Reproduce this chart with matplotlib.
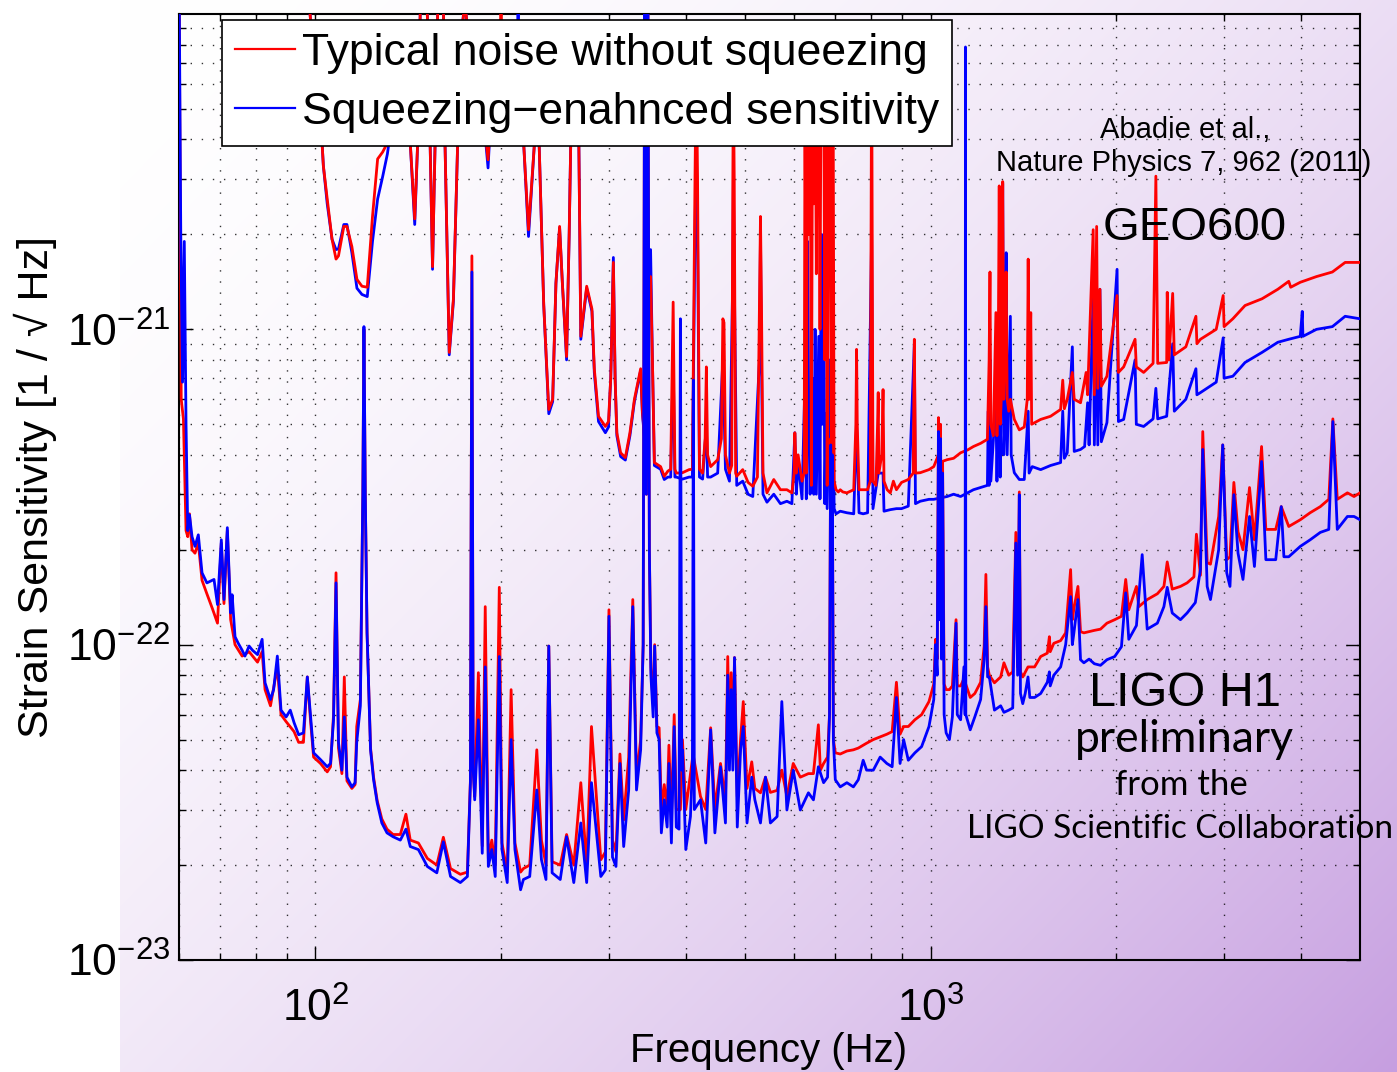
import matplotlib

matplotlib.use("Agg")
import matplotlib.pyplot as plt
import numpy as np
from matplotlib.lines import Line2D
from matplotlib.ticker import FixedLocator, LogFormatterSciNotation, NullFormatter

# ── data: (frequency Hz, strain in units of 1e-22 / sqrt(Hz)) ──────────

geo_red = [
    (60, 300), (95, 300), (98, 100), (100, 60), (102.5, 39), (103, 33), (104.5, 25.9),
    (106.4, 19.3), (108, 16.7), (109, 17.1), (111.2, 21.2), (112.5, 21.2), (114.6, 18.3),
    (116.8, 14.4), (119, 13.7), (121.4, 13.6), (123.8, 22.8), (126.2, 34.7), (128.6, 36.5),
    (130.9, 39), (134, 50), (138, 55), (142.6, 39), (145, 22.4), (146.6, 39), (148, 100),
    (150, 130), (152, 100), (153.6, 39), (155, 15.8), (156.5, 39), (158, 100), (160, 130),
    (161.5, 100), (162.4, 39), (165, 8.45), (167.6, 12.5), (170.3, 39), (172, 80), (175, 110),
    (177.5, 80), (182, 60), (188, 45), (190.8, 34.5), (193, 50), (197, 65), (199.5, 80),
    (200.3, 110), (201.2, 70), (206, 60), (212, 65), (218, 39), (222, 20.7), (227, 39),
    (230.5, 45), (235, 12), (239.5, 5.57), (243, 6.0), (246, 14), (249.4, 21.2), (252, 14),
    (256, 8.2), (258.5, 20), (261, 60), (265, 80), (268, 40), (270, 9.5), (276, 13.7),
    (281.5, 11.6), (284, 7.5), (288.5, 5.3), (296, 4.92), (299.5, 5.1), (302, 7.0),
    (305, 16.3), (307, 7.0), (309, 4.7), (313.4, 4.06), (319, 3.92), (324.5, 4.7), (330, 6.0),
    (337.8, 7.5), (340, 5.5), (342.4, 4.7), (346, 10), (350.6, 14.7), (353, 8.0),
    (355.6, 3.78), (364, 3.67), (369, 3.42), (374, 3.55), (378, 3.6), (381.5, 12.2),
    (384, 3.6), (386, 3.5), (395, 3.51), (405, 3.59), (410, 3.6), (414, 30), (416, 72),
    (418, 30), (421, 3.6), (426, 3.5), (430, 4.5), (432, 7.6), (434, 4.0), (439, 3.67),
    (450.7, 3.86), (457, 4.5), (459.5, 10.8), (461.5, 10.5), (464, 4.0), (471, 3.5),
    (475, 3.7), (477, 30), (478, 62), (479.5, 30), (482, 3.5), (484, 3.42), (495, 3.59),
    (505, 3.27), (514, 3.18), (523, 3.4), (527, 12), (529, 22.8), (531, 12), (534, 3.5),
    (542, 3.03), (556, 3.34), (570, 3.1), (584, 3.1), (595, 3.03), (600, 3.5), (601.6, 4.7),
    (605, 3.5), (609, 4.0), (618, 3.3), (623, 3.5), (625, 60), (628, 3.5), (631, 75),
    (634, 20), (637, 80), (640, 3.2), (643, 70), (646, 25), (649, 80), (652, 15), (655, 80),
    (658, 60), (661, 10), (664, 85), (667, 50), (670, 85), (673, 8), (676, 85), (679, 3.2),
    (683, 60), (686, 70), (690, 3.2), (694, 80), (697, 3.3), (702, 3.1), (708, 3.05),
    (713, 3.1), (720, 3.05), (731, 3.03), (750, 3.1), (756, 5), (758, 8.64), (760, 5),
    (765, 3.1), (777, 3.1), (790, 3.1), (798, 3.3), (802, 80), (806, 3.3), (815, 3.2),
    (820, 5), (822, 6.3), (824, 3.5), (833, 4), (837, 6.44), (840, 3.3), (850, 3.1),
    (860, 3.03), (870, 3.3), (880, 3.1), (897, 3.27), (920, 3.34), (937, 3.5), (941, 9.3),
    (945, 3.5), (962, 3.51), (994, 3.59), (1012, 3.67), (1030, 4.0), (1040, 3.8),
    (1064, 3.86), (1090, 3.9), (1119, 4.06), (1150, 4.15), (1174, 4.25), (1206, 4.35),
    (1237, 4.48), (1245, 8), (1249, 15.2), (1253, 5), (1265, 4.6), (1277, 11.3), (1282, 4.6),
    (1288, 8), (1293, 28.5), (1298, 5), (1303, 6), (1310, 29.4), (1315, 6), (1320, 8),
    (1327, 15.2), (1332, 6), (1340, 5.5), (1348, 6.0), (1368, 5.18), (1394, 4.8), (1420, 4.9),
    (1436, 6), (1441, 16.7), (1446, 6), (1455, 11.3), (1460, 5), (1488, 5.1), (1510, 5.18),
    (1567, 5.3), (1627, 5.57), (1640, 6.9), (1650, 5.6), (1668, 6.0), (1700, 7.3),
    (1712, 6.0), (1753, 5.85), (1790, 7.3), (1800, 6.2), (1838, 20.7), (1846, 6.2),
    (1862, 21.2), (1870, 6.5), (1885, 13.4), (1895, 6.6), (1935, 7.1), (2010, 12.8),
    (2020, 7.3), (2060, 7.6), (2150, 9.3), (2160, 7.6), (2220, 7.3), (2300, 7.8),
    (2324, 30.6), (2340, 7.8), (2420, 7.85), (2425, 13.1), (2440, 8.0), (2475, 13),
    (2490, 8.3), (2600, 8.8), (2700, 11), (2710, 9.0), (2746, 9.3), (2913, 10), (2990, 12.8),
    (3000, 10.2), (3100, 10.8), (3245, 11.9), (3458, 12.5), (3669, 13.4), (3822, 14.2),
    (3850, 13.6), (3990, 14.1), (4240, 14.7), (4500, 15.2), (4720, 16.3), (4990, 16.3),
]

geo_blue = [
    (60, 300), (95, 300), (98, 100), (100, 60), (102.5, 39), (103, 33), (104.5, 25),
    (106.4, 19.3), (108, 17.9), (109, 18), (111.2, 21.5), (112.5, 21.5), (114.6, 17.5),
    (116.8, 13.5), (119, 12.9), (121.4, 12.7), (123.8, 19), (126.2, 25.9), (128.6, 30.5),
    (130.9, 36), (134, 50), (138, 55), (142.6, 39), (145, 21.5), (146.6, 39), (148, 100),
    (150, 130), (152, 100), (153.6, 39), (155, 15.5), (156.5, 39), (158, 100), (160, 130),
    (161.5, 100), (162.4, 39), (165, 8.3), (167.6, 12.3), (170.3, 39), (172, 80), (175, 110),
    (177.5, 80), (182, 60), (188, 45), (190.8, 32.5), (193, 50), (197, 65), (206, 60),
    (213, 80), (213.5, 110), (214, 80), (218, 39), (222, 19.7), (227, 39), (230.5, 45),
    (235, 12), (239.5, 5.4), (243, 5.9), (246, 14), (249.4, 21), (252, 14), (256, 8.0),
    (258.5, 20), (261, 60), (265, 80), (268, 40), (270, 9.3), (276, 13.5), (281.5, 11.4),
    (284, 7.3), (288.5, 5.1), (296, 4.7), (299.5, 4.9), (302, 7.0), (305, 16.9), (307, 7.0),
    (309, 4.6), (313.4, 3.95), (319, 3.85), (324.5, 4.6), (330, 5.9), (337.8, 7.4),
    (340, 5.4), (342.4, 4.6), (346, 11), (350.6, 17.9), (353, 8.0), (355.6, 3.7),
    (364, 3.6), (369, 3.34), (374, 3.4), (378, 3.4), (381.5, 8), (384, 3.4), (386, 3.4),
    (395, 3.35), (405, 3.4), (410, 3.4), (414, 20), (416, 40), (418, 20), (421, 3.4),
    (426, 3.35), (432, 5), (434, 3.4), (439, 3.4), (450.7, 3.5), (459.5, 8), (464, 3.6),
    (471, 3.3), (477, 15), (478, 30), (479.5, 15), (484, 3.2), (495, 3.3), (505, 3.0),
    (514, 2.95), (527, 8), (529, 20), (531, 8), (534, 3.0), (542, 2.83), (556, 3.0),
    (570, 2.8), (584, 2.85), (595, 2.8), (601.6, 4.7), (605, 3.0), (609, 3.8), (618, 2.9),
    (625, 7), (628, 2.9), (631, 19), (634, 5), (637, 3), (643, 7), (646, 3), (649, 10),
    (652, 3), (658, 9.5), (661, 2.9), (664, 20), (667, 5), (670, 20), (673, 2.8),
    (676, 5.4), (679, 2.7), (686, 8), (690, 2.7), (694, 6), (697, 2.7), (702, 2.6),
    (713, 2.65), (731, 2.62), (750, 2.6), (758, 5), (765, 2.62), (777, 2.6), (790, 2.62),
    (802, 20), (806, 2.7), (822, 3.5), (837, 3.5), (840, 2.65), (860, 2.68), (880, 2.7),
    (897, 2.7), (920, 2.75), (941, 9.0), (945, 2.8), (962, 2.85), (994, 2.89), (1012, 2.89),
    (1064, 2.95), (1090, 3.0), (1119, 2.95), (1174, 3.1), (1206, 3.15), (1237, 3.2),
    (1241, 5.5), (1245, 3.2), (1249, 8), (1253, 3.3), (1277, 6), (1282, 3.3), (1293, 10),
    (1298, 3.4), (1310, 29), (1315, 4.0), (1320, 5), (1327, 17.5), (1332, 4), (1348, 11),
    (1352, 4.0), (1368, 3.51), (1394, 3.34), (1420, 3.34), (1441, 5.5), (1446, 3.5),
    (1463, 3.67), (1510, 3.59), (1567, 3.7), (1627, 3.78), (1640, 5.5), (1650, 3.9),
    (1668, 4.06), (1700, 8.8), (1712, 4.1), (1753, 4.16), (1780, 4.25), (1800, 5.85),
    (1810, 4.3), (1838, 13.1), (1846, 4.3), (1862, 12.8), (1870, 4.3), (1885, 13.4),
    (1895, 4.4), (1935, 5.06), (2010, 15.5), (2020, 5.1), (2060, 5.18), (2150, 8.0),
    (2160, 5.0), (2220, 4.92), (2300, 5.2), (2324, 6.5), (2340, 5.2), (2420, 5.3),
    (2475, 9), (2490, 5.5), (2600, 6.0), (2700, 7.5), (2710, 6.2), (2746, 6.3), (2913, 6.8),
    (2990, 9.4), (3000, 7.0), (3100, 7.1), (3245, 7.85), (3458, 8.45), (3669, 9.1),
    (3822, 9.3), (3990, 9.5), (4020, 11.4), (4030, 9.5), (4240, 10), (4500, 10.2),
    (4720, 11), (4990, 10.8),
]

ligo_red = [
    (60.0, 150), (60.5, 6.0), (61.0, 5.2), (61.6, 2.3), (62.0, 2.2), (62.4, 2.6), (63.0, 2.0),
    (63.7, 1.95), (64.5, 2.1), (65.4, 1.6), (66.6, 1.45), (68.0, 1.30), (69.3, 1.17),
    (70.3, 2.10), (71.0, 1.35), (71.9, 2.3), (72.8, 1.2), (74.0, 1.0), (76.0, 0.92),
    (78.0, 0.95), (80.5, 0.88), (81.9, 0.95), (82.8, 0.72), (84.5, 0.64), (86.7, 0.85),
    (87.9, 0.6), (89.6, 0.57), (92.3, 0.53), (93.9, 0.49), (95.6, 0.49), (97.0, 0.79),
    (98.2, 0.57), (99.3, 0.44), (101.9, 0.42), (104.5, 0.395), (105.8, 0.41), (107.0, 0.6),
    (108.0, 1.69), (109.0, 0.47), (110.4, 0.39), (111.4, 0.79), (112.5, 0.37), (114.6, 0.35),
    (116.0, 0.36), (116.7, 0.55), (118.3, 0.67), (119.4, 3.0), (119.9, 10.0), (120.5, 3.0),
    (121.3, 1.09), (122.9, 0.47), (124.3, 0.38), (126.0, 0.32), (128.2, 0.28), (130.7, 0.26),
    (133.7, 0.25), (137.4, 0.25), (140.3, 0.29), (142.6, 0.24), (147.0, 0.235), (152.0, 0.21),
    (157.5, 0.2), (161.4, 0.245), (165.8, 0.195), (172.0, 0.187), (176.6, 0.19),
    (178.6, 0.37), (179.6, 17.1), (180.5, 0.4), (181.5, 0.33), (184.0, 0.815), (186.7, 0.23),
    (188.8, 1.32), (191.0, 0.21), (193.5, 0.24), (196.0, 0.2), (199.0, 1.52), (201.0, 0.235),
    (205.0, 0.19), (208.0, 0.72), (211.0, 0.235), (215.5, 0.19), (217.8, 0.195), (223.0, 0.2),
    (229.0, 0.464), (233.0, 0.24), (237.0, 0.2), (239.5, 0.99), (242.5, 0.205), (250.0, 0.2),
    (256.0, 0.25), (263.0, 0.2), (270.0, 0.365), (276.0, 0.2), (281.0, 0.55), (291.0, 0.208),
    (296.0, 0.22), (300.0, 1.29), (304.0, 0.24), (308.0, 0.22), (312.6, 0.45), (317.0, 0.278),
    (323.0, 0.44), (328.0, 1.39), (332.6, 0.38), (337.8, 0.5), (341.0, 1.0), (343.0, 150),
    (345.0, 3.0), (347.0, 150), (349.0, 2.0), (351.0, 0.85), (354.0, 0.65), (356.0, 1.0),
    (359.0, 0.55), (362.0, 0.545), (365.0, 0.3), (369.0, 0.36), (373.0, 0.3), (375.5, 0.48),
    (379.0, 0.28), (383.0, 0.6), (386.0, 0.3), (392.0, 0.3), (395.0, 0.5), (400.0, 0.3),
    (411.0, 0.45), (422.6, 0.33), (431.0, 0.3), (439.0, 0.545), (446.0, 0.3), (455.5, 0.42),
    (464.0, 0.32), (468.0, 0.917), (471.0, 0.45), (474.0, 0.815), (477.0, 0.45),
    (480.0, 0.91), (485.0, 0.33), (491.0, 0.5), (496.0, 0.66), (503.0, 0.35), (512.0, 0.425),
    (518.0, 0.35), (529.0, 0.339), (539.0, 0.38), (549.0, 0.34), (563.0, 0.345), (573.0, 0.4),
    (584.0, 0.33), (598.0, 0.42), (614.0, 0.38), (633.0, 0.39), (645.0, 0.39), (657.0, 0.557),
    (662.0, 0.4), (670.0, 0.42), (680.0, 0.44), (685.0, 0.6), (688.0, 4.5), (690.0, 1.5),
    (692.0, 4.2), (695.0, 0.5), (700.0, 0.454), (713.0, 0.45), (731.0, 0.46), (749.0, 0.464),
    (763.0, 0.47), (787.0, 0.487), (807.0, 0.5), (828.0, 0.51), (849.0, 0.52), (866.0, 0.53),
    (880.0, 0.76), (892.0, 0.52), (904.0, 0.55), (920.0, 0.55), (943.0, 0.578), (967.0, 0.6),
    (994.0, 0.66), (1012.0, 0.75), (1019.0, 1.04), (1025.0, 0.9), (1030.0, 5.25),
    (1034.0, 1.2), (1038.0, 5.0), (1042.0, 1.0), (1046.0, 3.8), (1052.0, 0.75), (1060.0, 0.72),
    (1073.0, 0.72), (1085.0, 0.74), (1100.0, 1.2), (1105.0, 0.74), (1119.0, 0.74),
    (1133.0, 0.78), (1160.0, 0.68), (1180.0, 0.70), (1206.0, 0.76), (1222.0, 0.99),
    (1230.0, 1.67), (1238.0, 0.85), (1246.0, 0.8), (1270.0, 0.757), (1300.0, 0.79),
    (1316.0, 0.876), (1340.0, 0.8), (1360.0, 0.82), (1376.0, 2.27), (1385.0, 0.85),
    (1394.0, 3.05), (1400.0, 0.82), (1412.0, 0.79), (1440.0, 0.85), (1476.0, 0.85),
    (1510.0, 0.917), (1548.0, 0.94), (1560.0, 1.06), (1565.0, 0.95), (1586.0, 1.01),
    (1627.0, 1.03), (1658.0, 1.09), (1689.0, 1.73), (1700.0, 1.2), (1710.0, 1.3),
    (1736.0, 1.53), (1753.0, 1.1), (1775.0, 1.09), (1810.0, 1.1), (1846.0, 1.11),
    (1889.0, 1.12), (1935, 1.17), (1992, 1.2), (2043, 1.23), (2076, 1.61), (2100, 1.29),
    (2161, 1.53), (2180, 1.32), (2250, 1.39), (2337, 1.45), (2395, 1.53), (2425, 1.83),
    (2471, 1.5), (2548, 1.53), (2612, 1.57), (2680, 1.64), (2705, 2.24), (2746, 1.66),
    (2770, 4.74), (2816, 1.82), (2851, 1.8), (2940, 2.55), (2985, 4.3), (3030, 1.86),
    (3067, 1.9), (3112, 3.27), (3161, 2.28), (3220, 2.0), (3300, 3.15), (3361, 2.15),
    (3452, 4.25), (3508, 2.32), (3640, 2.32), (3716, 2.74), (3822, 2.37), (3991, 2.49),
    (4140, 2.62), (4301, 2.74), (4440, 2.89), (4508, 5.2), (4583, 2.89), (4760, 3.03),
    (4880, 2.95), (4990, 3.03),
]

ligo_blue = [
    (60.0, 150), (60.4, 20), (60.8, 6.8), (61.2, 19), (61.6, 5.0), (62.0, 2.3), (62.4, 2.58),
    (63.0, 2.2), (63.7, 2.05), (64.5, 2.23), (65.4, 1.69), (66.6, 1.57), (68.4, 1.61),
    (69.3, 1.34), (70.3, 2.15), (71.0, 1.39), (71.9, 2.35), (72.8, 1.26), (73.2, 1.44),
    (74.0, 1.06), (74.9, 1.01), (76.0, 0.96), (76.8, 0.92), (78.0, 0.99), (79.0, 0.96),
    (80.5, 0.93), (81.9, 1.04), (82.8, 0.757), (84.5, 0.67), (85.5, 0.72), (86.7, 0.92),
    (87.9, 0.62), (89.6, 0.59), (91.0, 0.62), (92.3, 0.566), (93.9, 0.518), (95.6, 0.525),
    (97.0, 0.79), (98.2, 0.59), (99.3, 0.454), (101.9, 0.432), (104.5, 0.41), (105.8, 0.42),
    (107.0, 0.578), (108.0, 1.57), (109.0, 0.49), (110.4, 0.40), (111.4, 0.59), (112.5, 0.38),
    (114.6, 0.354), (116.0, 0.365), (116.7, 0.49), (118.3, 0.64), (119.4, 3.0), (119.9, 10.2),
    (120.5, 3.0), (121.3, 1.09), (122.9, 0.464), (124.3, 0.373), (126.0, 0.315),
    (128.2, 0.272), (130.7, 0.253), (133.7, 0.246), (137.4, 0.24), (140.3, 0.26),
    (142.6, 0.229), (147.0, 0.224), (152.0, 0.198), (157.5, 0.189), (161.4, 0.237),
    (165.8, 0.184), (172.0, 0.176), (176.6, 0.184), (178.6, 0.365), (179.6, 15.2),
    (180.5, 0.4), (181.5, 0.322), (184.0, 0.578), (186.7, 0.218), (188.8, 0.85), (191.0, 0.198),
    (193.5, 0.224), (196.0, 0.184), (199.0, 0.917), (201.0, 0.224), (205.0, 0.176),
    (208.0, 0.50), (211.0, 0.224), (215.5, 0.167), (217.8, 0.18), (223.0, 0.184),
    (229.0, 0.346), (233.0, 0.208), (237.0, 0.18), (239.5, 0.99), (242.5, 0.189), (250.0, 0.18),
    (256.0, 0.246), (263.0, 0.176), (270.0, 0.272), (276.0, 0.176), (281.0, 0.365),
    (291.0, 0.184), (296.0, 0.193), (300.0, 1.23), (304.0, 0.212), (308.0, 0.198),
    (312.6, 0.42), (317.0, 0.229), (323.0, 0.346), (328.0, 1.32), (332.6, 0.346),
    (337.8, 0.464), (341.0, 1.0), (343.0, 150), (345.0, 3.0), (347.0, 150), (349.0, 2.0),
    (351.0, 0.8), (354.0, 0.59), (356.0, 0.99), (359.0, 0.525), (362.0, 0.5), (365.0, 0.253),
    (369.0, 0.322), (373.0, 0.264), (375.5, 0.42), (379.0, 0.235), (383.0, 0.55),
    (386.0, 0.264), (390.0, 0.26), (392.0, 10.8), (394.0, 0.4), (395.0, 0.464), (400.0, 0.224),
    (407.0, 0.285), (410.0, 0.41), (411.5, 6.9), (413.0, 0.3), (422.6, 0.322), (431.0, 0.235),
    (439.0, 0.537), (446.0, 0.253), (455.5, 0.41), (464.0, 0.272), (468.0, 0.80),
    (471.0, 0.40), (474.0, 0.72), (477.0, 0.40), (480.0, 0.91), (485.0, 0.264), (491.0, 0.464),
    (496.0, 0.55), (503.0, 0.272), (512.0, 0.38), (518.0, 0.322), (529.0, 0.272),
    (539.0, 0.38), (549.0, 0.272), (563.0, 0.285), (573.0, 0.66), (584.0, 0.299),
    (598.0, 0.40), (614.0, 0.299), (633.0, 0.339), (645.0, 0.322), (657.0, 0.41),
    (670.0, 0.365), (680.0, 0.38), (685.0, 0.6), (688.0, 4.3), (690.0, 1.5), (692.0, 4.0),
    (695.0, 0.5), (700.0, 0.373), (713.0, 0.354), (731.0, 0.365), (749.0, 0.354),
    (763.0, 0.373), (777.0, 0.43), (787.0, 0.40), (807.0, 0.40), (828.0, 0.44), (849.0, 0.42),
    (866.0, 0.41), (880.0, 0.68), (892.0, 0.42), (904.0, 0.50), (920.0, 0.43), (943.0, 0.454),
    (967.0, 0.475), (994.0, 0.55), (1012.0, 0.67), (1019.0, 1.0), (1025.0, 0.8),
    (1030.0, 4.74), (1034.0, 1.2), (1038.0, 4.5), (1042.0, 0.9), (1046.0, 3.5), (1052.0, 0.6),
    (1060.0, 0.525), (1073.0, 0.50), (1085.0, 0.59), (1100.0, 1.17), (1105.0, 0.6),
    (1119.0, 0.578), (1133.0, 0.85), (1138.0, 0.6), (1139.5, 78.6), (1141.0, 0.6),
    (1160.0, 0.537), (1180.0, 0.59), (1206.0, 0.67), (1222.0, 0.896), (1230.0, 1.32),
    (1238.0, 0.79), (1246.0, 0.79), (1270.0, 0.62), (1300.0, 0.64), (1316.0, 0.61),
    (1340.0, 0.62), (1360.0, 0.63), (1376.0, 2.1), (1385.0, 0.8), (1394.0, 2.99),
    (1400.0, 0.7), (1412.0, 0.65), (1425.0, 0.7), (1440.0, 0.79), (1450.0, 0.68),
    (1476.0, 0.68), (1510.0, 0.70), (1548.0, 0.76), (1560.0, 0.82), (1565.0, 0.74),
    (1586.0, 0.80), (1627.0, 0.85), (1658.0, 1.0), (1689.0, 1.42), (1700.0, 1.0),
    (1710.0, 1.09), (1736.0, 1.39), (1753.0, 0.896), (1775.0, 0.876), (1810.0, 0.90),
    (1846.0, 0.87), (1889.0, 0.86), (1935, 0.896), (1992, 0.917), (2043, 0.985), (2076, 1.46),
    (2100, 1.04), (2161, 1.15), (2208, 1.93), (2250, 1.12), (2337, 1.17), (2395, 1.32),
    (2425, 1.52), (2471, 1.26), (2548, 1.2), (2612, 1.26), (2694, 1.36), (2746, 1.73),
    (2770, 4.16), (2816, 1.53), (2851, 1.39), (2940, 2.0), (2985, 4.3), (3030, 1.69),
    (3067, 1.53), (3112, 2.99), (3161, 1.95), (3220, 1.61), (3300, 2.55), (3361, 1.77),
    (3452, 3.81), (3508, 1.86), (3640, 1.86), (3716, 2.74), (3753, 1.9), (3822, 1.9),
    (3991, 2.05), (4140, 2.15), (4301, 2.27), (4440, 2.32), (4508, 5.1), (4583, 2.32),
    (4760, 2.55), (4880, 2.55), (4990, 2.49),
]

legend_labels = ["Typical noise without squeezing", "Squeezing\u2212enahnced sensitivity"]
x_ticks = [1e2, 1e3]
y_ticks = [1e-23, 1e-22, 1e-21]
UNIT = 1e-22

# ── figure ──────────────────────────────────────────────────────────────

W, H = 1397, 1072
plt.rcParams["font.family"] = ["Liberation Sans", "DejaVu Sans"]
plt.rcParams["mathtext.default"] = "regular"

fig = plt.figure(figsize=(W / 100, H / 100), dpi=100)

# slide-like background: white at upper left, lilac toward lower right
bg = fig.add_axes([0, 0, 1, 1], zorder=-10)
yy, xx = np.mgrid[0:H, 0:W]
xn = np.clip((xx - 120) / (W - 120), 0, 1)
t = (0.55 * xn + 0.45 * yy / H) ** 1.8
t[:, :120] = 0
white = np.array([1.0, 1.0, 1.0])
lilac = np.array([198, 158, 224]) / 255
bg.imshow(white * (1 - t[..., None]) + lilac * t[..., None], aspect="auto")
bg.axis("off")

ax = fig.add_axes([179 / W, 1 - 960 / H, (1360 - 179) / W, (960 - 14) / H])
ax.set_facecolor("none")


def _plot(data, color, z):
    f, h = zip(*data)
    ax.plot(f, np.array(h) * UNIT, color=color, lw=2.0, zorder=z)


_plot(geo_blue, "blue", 3)
_plot(geo_red, "red", 4)
_plot(ligo_red, "red", 5)
_plot(ligo_blue, "blue", 6)

ax.set_xscale("log")
ax.set_yscale("log")
ax.set_xlim(60, 4990)
ax.set_ylim(1e-23, 1e-20)

ax.xaxis.set_major_locator(FixedLocator(x_ticks))
ax.yaxis.set_major_locator(FixedLocator(y_ticks))
ax.xaxis.set_major_formatter(LogFormatterSciNotation())
ax.yaxis.set_major_formatter(LogFormatterSciNotation())
ax.xaxis.set_minor_formatter(NullFormatter())
ax.yaxis.set_minor_formatter(NullFormatter())

ax.tick_params(which="both", direction="in", top=True, right=True, width=1.0)
ax.tick_params(which="major", length=10, labelsize=32)
ax.tick_params(which="minor", length=5)
ax.tick_params(axis="x", pad=20)
ax.tick_params(axis="y", pad=6)
for s in ax.spines.values():
    s.set_linewidth(1.5)

ax.grid(True, which="both", color="black", linestyle=(0, (1, 7)), linewidth=1.0, alpha=0.8)
ax.set_axisbelow(False)

# x label placed by its baseline, just under the tick labels
fig.text(769 / W, 1 - 1062 / H, "Frequency (Hz)", fontsize=29, ha="center", va="baseline")
ax.set_ylabel("Strain Sensitivity [1 / \u221a Hz]", fontsize=31)
ax.yaxis.set_label_coords(-0.103, 0.5)

handles = [Line2D([], [], color="red", lw=1.6), Line2D([], [], color="blue", lw=1.6)]
leg = ax.legend(
    handles, legend_labels,
    loc="upper left", bbox_to_anchor=(0.036, 0.994), borderaxespad=0,
    prop={"family": "Liberation Sans", "size": 32},
    fancybox=False, framealpha=1, edgecolor="black",
    handlelength=1.35, handletextpad=0.16, borderpad=0.3, labelspacing=0.4,
)
leg.get_frame().set_linewidth(1.2)
leg.set_zorder(20)


def _txt(x, y, s, size, family="Liberation Sans"):
    fig.text(x / W, 1 - y / H, s, fontsize=size, family=family, ha="center", va="center")


_txt(1185, 130, "Abadie et al.,", 21)
_txt(1184, 163, "Nature Physics 7, 962 (2011)", 21)
_txt(1195, 228, "GEO600", 34)
_txt(1185, 693, "LIGO H1", 35)
_txt(1184, 740, "preliminary", 32, "Lato")
_txt(1181, 785, "from the", 25, "Lato")
_txt(1180, 829, "LIGO Scientific Collaboration", 24, "Lato")

fig.savefig("out.png", dpi=100)
